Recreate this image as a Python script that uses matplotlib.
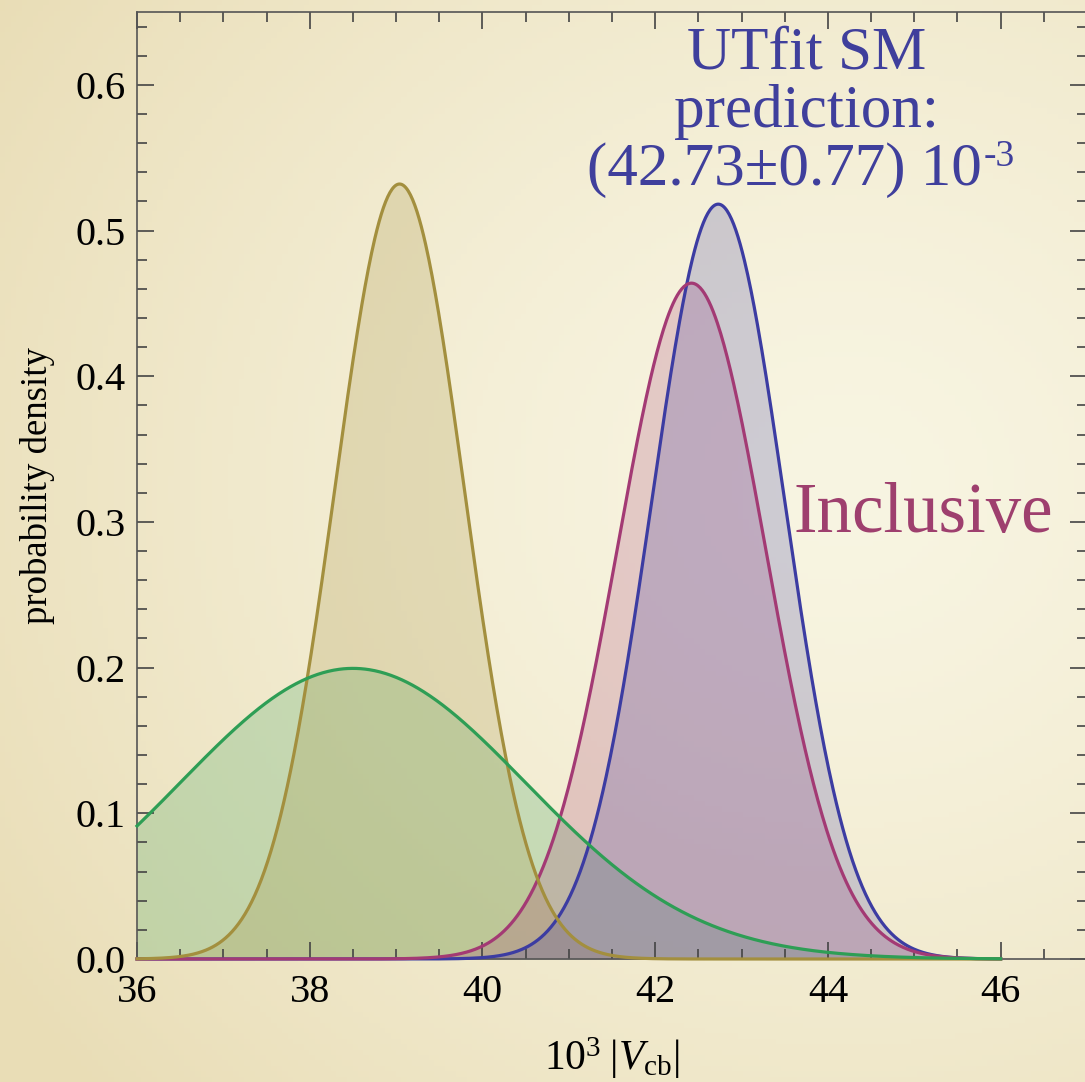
import numpy as np
import matplotlib
matplotlib.use('Agg')
import matplotlib.pyplot as plt
from matplotlib.ticker import MultipleLocator

plt.rcParams['font.family'] = ['Liberation Serif', 'DejaVu Serif']
plt.rcParams['mathtext.fontset'] = 'custom'
plt.rcParams['mathtext.rm'] = 'Liberation Serif'
plt.rcParams['mathtext.it'] = 'Liberation Serif:italic'

# Gaussian |Vcb| determinations (10^3 |Vcb|): mean and sigma of each curve
names = ['B -> D', 'B -> D*', 'Inclusive', 'UTfit SM']
means = [38.5, 39.04, 42.42, 42.73]
sigmas = [2.0, 0.75, 0.86, 0.77]
colors = ['#2e9e55', '#a38f3e', '#a33a74', '#3c3ca2']
x_range = [36.0, 46.0]

W, H = 1085, 1082
fig = plt.figure(figsize=(W / 100, H / 100), dpi=100)

# cream slide background, lighter towards the upper right
yy, xx = np.mgrid[0:1:200j, 0:1:200j]
d = np.sqrt(((xx - 0.78) / 1.1) ** 2 + ((yy - 0.55) / 1.0) ** 2)
t = np.clip(d / 0.85, 0, 1) ** 1.4
light = np.array([248, 245, 226]) / 255.
dark = np.array([233, 221, 182]) / 255.
img = light[None, None, :] + (dark - light)[None, None, :] * t[..., None]
bg = fig.add_axes([0, 0, 1, 1], zorder=-1)
bg.imshow(img, extent=[0, 1, 0, 1], aspect='auto', origin='lower')
bg.axis('off')

ax = fig.add_axes([137 / W, 1 - 959 / H, 950 / W, 947 / H])
ax.set_facecolor('none')

x = np.linspace(x_range[0], x_range[1], 800)
curves = []
for m, s in zip(means, sigmas):
    curves.append(np.exp(-0.5 * ((x - m) / s) ** 2) / (s * np.sqrt(2 * np.pi)))

for y, c in zip(curves, colors):
    ax.fill_between(x, 0, y, color=c, alpha=0.22, lw=0)
# lines: UTfit, inclusive, D*, D on top
for i in [3, 2, 1, 0]:
    ax.plot(x, curves[i], color=colors[i], lw=2.3, clip_on=False, zorder=3)

ax.set_xlim(36, 47)
ax.set_ylim(0, 0.65)
ax.xaxis.set_major_locator(MultipleLocator(2))
ax.xaxis.set_minor_locator(MultipleLocator(0.5))
ax.yaxis.set_minor_locator(MultipleLocator(0.02))
ax.set_yticks(np.arange(0, 0.61, 0.1))
ax.set_yticklabels(['%.1f' % v for v in np.arange(0, 0.61, 0.1)])
ax.tick_params(which='both', direction='in', top=True, right=True,
               color='#444444', width=1.2)
ax.tick_params(which='major', length=12, labelsize=29, pad=8)
ax.tick_params(which='minor', length=7)
ax.tick_params(axis='x', which='major', pad=11)
for sp in ax.spines.values():
    sp.set_color('#555555')
    sp.set_linewidth(1.2)

ax.set_ylabel('probability density', fontsize=26.5)
ax.yaxis.set_label_coords(-0.086, 0.5)
ax.set_xlabel(r'$10^3\;|V_{\mathrm{cb}}|$', fontsize=30)
ax.xaxis.set_label_coords(0.5, -0.08)

blue_txt = '#3f3f9c'
ax.text(43.75, 0.611, 'UTfit SM', color=blue_txt, fontsize=44,
        ha='center', va='baseline')
ax.text(43.75, 0.571, 'prediction:', color=blue_txt, fontsize=44,
        ha='center', va='baseline')
main = ax.text(43.5, 0.531, u'(42.73\u00b10.77) 10', color=blue_txt,
               fontsize=44, ha='center', va='baseline')
ax.annotate('-3', xy=(1.0, 0.544), xycoords=(main, 'data'),
            xytext=(1, 0), textcoords='offset points',
            color=blue_txt, fontsize=27, ha='left', va='baseline')
ax.text(45.11, 0.293, 'Inclusive', color='#9e3f6e', fontsize=51,
        ha='center', va='baseline')

fig.savefig('out.png', dpi=100)
